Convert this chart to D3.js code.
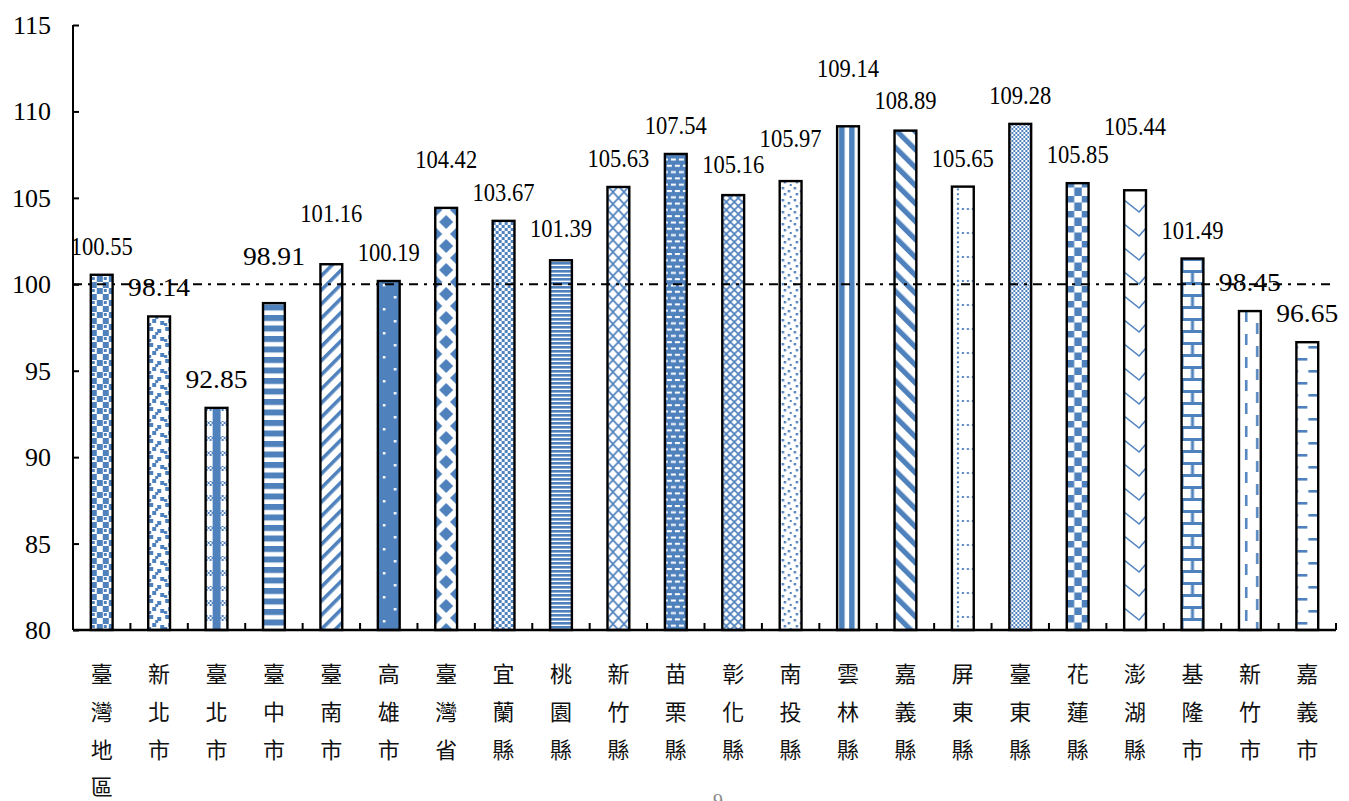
<!DOCTYPE html>
<html><head><meta charset="utf-8">
<script src="https://cdn.jsdelivr.net/npm/d3@7"></script>
<style>body{margin:0;background:#fff;overflow:hidden}</style></head>
<body><svg id="c" width="1349" height="801"></svg>
<script>
const categories = ["臺灣地區","新北市","臺北市","臺中市","臺南市","高雄市","臺灣省","宜蘭縣","桃園縣","新竹縣","苗栗縣","彰化縣","南投縣","雲林縣","嘉義縣","屏東縣","臺東縣","花蓮縣","澎湖縣","基隆市","新竹市","嘉義市"];
const values = [100.55, 98.14, 92.85, 98.91, 101.16, 100.19, 104.42, 103.67, 101.39, 105.63, 107.54, 105.16, 105.97, 109.14, 108.89, 105.65, 109.28, 105.85, 105.44, 101.49, 98.45, 96.65];
const yTicks = [80, 85, 90, 95, 100, 105, 110, 115];
const referenceValue = 100;
const pageNumber = "9";

// layout
const pLeft = 73, pRight = 1336, pTop = 25, pBottom = 630;
const BLUE = "#4F81BD";
const labelRaise = [0,0,0,18,22,0,20,0,3,0,0,2,14,29,2,0,0,0,35,0,0,0];

const svg = d3.select("#c");
const defs = svg.append("defs");

const x = d3.scaleBand().domain(categories).range([pLeft, pRight]).paddingInner(0.62).paddingOuter(0.31);
const y = d3.scaleLinear().domain([80, 115]).range([pBottom, pTop]);
const bw = x.bandwidth();

function pat(id, w, h, x0, draw, transform) {
  const p = defs.append("pattern").attr("id", id).attr("patternUnits", "userSpaceOnUse")
    .attr("width", w).attr("height", h).attr("x", x0).attr("y", pBottom);
  if (transform) p.attr("patternTransform", transform);
  p.append("rect").attr("width", w).attr("height", h).attr("fill", "#fff");
  draw(p);
}
function R(p, a, b, w, h, f) { p.append("rect").attr("x", a).attr("y", b).attr("width", w).attr("height", h).attr("fill", f || BLUE); }
function L(p, d, sw) { p.append("path").attr("d", d).attr("fill", "none").attr("stroke", BLUE).attr("stroke-width", sw || 1.8); }

const makers = [
  (id, x0) => pat(id, 12, 12, x0, p => { R(p,0,0,6,6); R(p,6,6,6,6); R(p,1,7,3,3); R(p,8,2,2,2,"#fff"); }),
  (id, x0) => pat(id, 16, 16, x0, p => { R(p,1,1,4,4); R(p,9,3,4,4); R(p,4,9,4,4); R(p,12,11,4,4); R(p,0,13,3,3); R(p,7,6,3,3); }),
  (id, x0) => pat(id, 22, 15, x0, p => { R(p,7,0,8,15); for (let i=0;i<11;i++) for (let j=0;j<3;j++) if ((i+j)%2===0) R(p,i*2,j*2,2,2); }),
  (id, x0) => pat(id, 10, 10.5, x0, p => { R(p,0,0,10,6); }),
  (id, x0) => pat(id, 10, 10, x0, p => { R(p,0,0,3.6,10); }, "rotate(45)"),
  (id, x0) => pat(id, bw, 24, x0, p => { R(p,0,0,bw,24); R(p,16,2,2.5,2.5,"#fff"); R(p,5,14,2.5,2.5,"#fff"); }),
  (id, x0) => pat(id, bw, 24, x0, p => {
    const d = (cx, cy) => `M${cx-7},${cy}L${cx},${cy-7}L${cx+7},${cy}L${cx},${cy+7}Z`;
    p.append("path").attr("d", d(bw/2,0)+d(bw/2,24)+d(0,12)+d(bw,12)).attr("fill", BLUE); }),
  (id, x0) => pat(id, 6, 6, x0, p => { R(p,0,0,3,3); R(p,3,3,3,3); }),
  (id, x0) => pat(id, 10, 4, x0, p => { R(p,0,0,10,2.6); }),
  (id, x0) => pat(id, 11, 12, x0, p => { L(p,"M0,0L11,12M11,0L0,12", 1.8); }),
  (id, x0) => pat(id, 16, 12.6, x0, p => { R(p,0,0,16,12.6); R(p,2,1,5,2,"#fff"); R(p,10,1,5,2,"#fff"); R(p,6,7.3,5,2,"#fff"); R(p,14,7.3,2,2,"#fff"); R(p,0,7.3,3,2,"#fff"); }),
  (id, x0) => pat(id, 8, 8, x0, p => { L(p,"M0,0L8,8M8,0L0,8", 1.7); }),
  (id, x0) => pat(id, 12, 12, x0, p => { R(p,2,1,2.4,2.4); R(p,8,4,2.4,2.4); R(p,4,7,2.4,2.4); R(p,10,10,2.4,2.4); }),
  (id, x0) => pat(id, 10, 10, x0, p => { R(p,2,0,5.5,10); }),
  (id, x0) => pat(id, 12.7, 12.7, x0, p => { R(p,0,0,5.2,12.7); }, "rotate(-45)"),
  (id, x0) => pat(id, bw, 24, x0, p => { for (let j=0;j<24;j+=4.8) R(p,5,j,2,2); for (let i=5;i<bw;i+=5) R(p,i,10,2,2); }),
  (id, x0) => pat(id, 4, 4, x0, p => { R(p,0,0,2,2); R(p,2,2,2,2); }),
  (id, x0) => pat(id, 15, 15, x0, p => { R(p,0,0,7.5,7.5); R(p,7.5,7.5,7.5,7.5); }),
  (id, x0) => pat(id, bw, 24, x0, p => { L(p,`M0,2L15,14L${bw},6`, 1.6); }),
  (id, x0) => pat(id, bw, 24, x0, p => { R(p,0,0,bw,3); R(p,0,12,bw,3); R(p,bw/2-1.5,3,3,9); R(p,0,15,2,9); R(p,bw-2,15,2,9); }),
  (id, x0) => pat(id, bw, 23, x0, p => { R(p,6,3,2.5,11); R(p,17,15,2.5,8); R(p,17,0,2.5,3); }),
  (id, x0) => pat(id, bw, 24, x0, p => { R(p,12,4,10,2.6); R(p,1,16,10,2.6); R(p,0,4,1.5,2.6); }),
];

categories.forEach((c, i) => makers[i]("p" + i, x(c)));

// value labels
svg.append("g").selectAll("text").data(values).join("text")
  .attr("x", (d, i) => x(categories[i]) + bw / 2)
  .attr("y", (d, i) => y(d) - 20 - labelRaise[i])
  .attr("text-anchor", "middle")
  .attr("font-family", "'Liberation Serif', serif")
  .attr("font-size", 26)
  .attr("textLength", 62).attr("lengthAdjust", "spacingAndGlyphs")
  .attr("fill", "#000")
  .text(d => d.toFixed(2));

// bars
svg.append("g").selectAll("rect").data(values).join("rect")
  .attr("x", (d, i) => x(categories[i]))
  .attr("y", d => y(d))
  .attr("width", bw)
  .attr("height", d => y(80) - y(d))
  .attr("fill", (d, i) => `url(#p${i})`)
  .attr("stroke", "#000").attr("stroke-width", 2.4);

// y axis
const yAxis = svg.append("g").attr("transform", `translate(${pLeft},0)`)
  .call(d3.axisRight(y).tickValues(yTicks).tickSize(6).tickFormat(""));
yAxis.select(".domain").attr("d", `M0,${pTop}V${pBottom}`).attr("stroke", "#000").attr("stroke-width", 2);
yAxis.selectAll(".tick line").attr("stroke", "#000").attr("stroke-width", 2);
svg.append("g").selectAll("text").data(yTicks).join("text")
  .attr("x", 51).attr("y", d => y(d) + 9)
  .attr("text-anchor", "end")
  .attr("font-family", "'Liberation Serif', serif").attr("font-size", 26)
  .text(d => d);

// x axis
const step = x.step();
const bounds = d3.range(categories.length + 1).map(i => pLeft + i * step);
svg.append("line").attr("x1", pLeft).attr("x2", pRight).attr("y1", pBottom).attr("y2", pBottom)
  .attr("stroke", "#000").attr("stroke-width", 2.4);
svg.append("g").selectAll("line").data(bounds).join("line")
  .attr("x1", d => d).attr("x2", d => d).attr("y1", pBottom).attr("y2", pBottom - 7)
  .attr("stroke", "#000").attr("stroke-width", 2);

// category labels (vertical)
const catG = svg.append("g").attr("font-family", "'Noto Sans CJK TC', sans-serif").attr("font-size", 22)
  .attr("text-anchor", "middle").attr("fill", "#111");
categories.forEach(c => {
  Array.from(c).forEach((ch, k) => {
    catG.append("text").attr("x", x(c) + bw / 2).attr("y", 672 + k * 37.8)
      .attr("dominant-baseline", "central").text(ch);
  });
});

// reference line
svg.append("line").attr("x1", pLeft).attr("x2", pRight).attr("y1", y(referenceValue)).attr("y2", y(referenceValue))
  .attr("stroke", "#000").attr("stroke-width", 2).attr("stroke-dasharray", "9 6 3 6");

// page number
svg.append("text").attr("x", 718).attr("y", 808).attr("text-anchor", "middle")
  .attr("font-family", "'Liberation Serif', serif").attr("font-size", 20).attr("fill", "#888").text(pageNumber);
</script></body></html>
